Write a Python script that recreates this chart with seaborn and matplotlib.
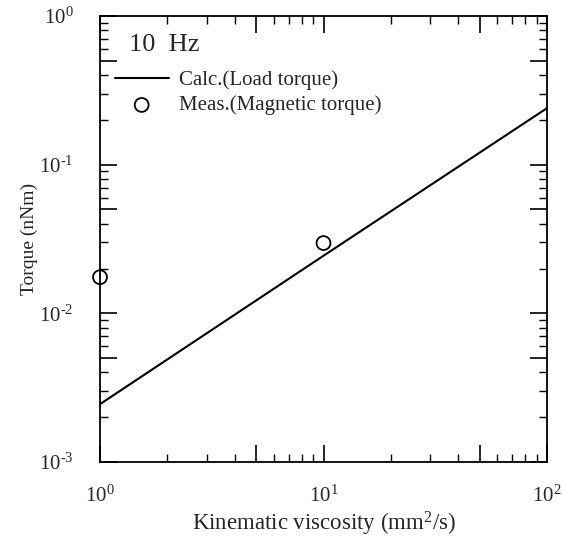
import numpy as np
import pandas as pd
import matplotlib
matplotlib.use("Agg")
import matplotlib.pyplot as plt
import matplotlib.ticker as mticker
import seaborn as sns

# Data
calc_viscosity = [1, 10, 100]            # mm^2/s
calc_torque = [0.00245, 0.0244, 0.240]   # nNm
meas_viscosity = [1, 10]
meas_torque = [0.0175, 0.0297]

x_major = [1, 5, 10, 50, 100]
y_major = [1e-3, 5e-3, 1e-2, 5e-2, 1e-1, 5e-1, 1]

sns.set_style("ticks")
plt.rcParams['font.family'] = ['Liberation Serif', 'DejaVu Serif']
plt.rcParams['mathtext.fontset'] = 'custom'
plt.rcParams['mathtext.rm'] = 'Liberation Serif'
plt.rcParams['mathtext.it'] = 'Liberation Serif:italic'

fig = plt.figure(figsize=(5.63, 5.43), dpi=100)
ax = fig.add_axes([100/563, 1-462/543, 447/563, 446/543])

calc_df = pd.DataFrame({"nu": calc_viscosity, "T": calc_torque})
meas_df = pd.DataFrame({"nu": meas_viscosity, "T": meas_torque})

sns.lineplot(data=calc_df, x="nu", y="T", ax=ax, color="black", linewidth=1.5,
             label="Calc.(Load torque)")
sns.scatterplot(data=meas_df, x="nu", y="T", ax=ax, marker="o", s=100,
                facecolor="none", edgecolor="black", linewidth=1.3,
                label="Meas.(Magnetic torque)", clip_on=False, zorder=5)

ax.set_xscale("log")
ax.set_yscale("log")
ax.set_xlim(1, 100)
ax.set_ylim(1e-3, 1)

def fmt(v, pos):
    e = np.log10(v)
    if abs(e - round(e)) < 1e-9:
        return r"$10^{\text{%d}}$" % int(round(e))
    return ""

ax.xaxis.set_major_locator(mticker.FixedLocator(x_major))
ax.yaxis.set_major_locator(mticker.FixedLocator(y_major))
ax.xaxis.set_major_formatter(mticker.FuncFormatter(fmt))
ax.yaxis.set_major_formatter(mticker.FuncFormatter(fmt))
ax.xaxis.set_minor_locator(mticker.LogLocator(base=10, subs=[2, 3, 4, 6, 7, 8, 9]))
ax.yaxis.set_minor_locator(mticker.LogLocator(base=10, subs=[2, 3, 4, 6, 7, 8, 9]))
ax.xaxis.set_minor_formatter(mticker.NullFormatter())
ax.yaxis.set_minor_formatter(mticker.NullFormatter())

ax.tick_params(which="both", direction="in", top=True, right=True, color="black")
ax.tick_params(which="major", length=12, width=1.2, labelsize=15)
ax.tick_params(axis="x", which="major", pad=17)
ax.tick_params(axis="y", which="major", pad=19)
ax.tick_params(which="minor", length=6, width=1.0)
for s in ax.spines.values():
    s.set_linewidth(1.3)
    s.set_color("black")

ax.set_xlabel("Kinematic viscosity (mm$^2$/s)", fontsize=16.5, labelpad=2)
ax.set_ylabel("Torque (nNm)", fontsize=14, labelpad=1)

ax.text(0.065, 0.935, "10  Hz", transform=ax.transAxes, fontsize=19,
        ha="left", va="center")
ax.legend(loc="upper left", bbox_to_anchor=(0.0, 0.91), frameon=False,
          fontsize=15, handlelength=2.6, handletextpad=0.5, labelspacing=0.25,
          borderaxespad=0.3)

fig.savefig("out.png", dpi=100)
